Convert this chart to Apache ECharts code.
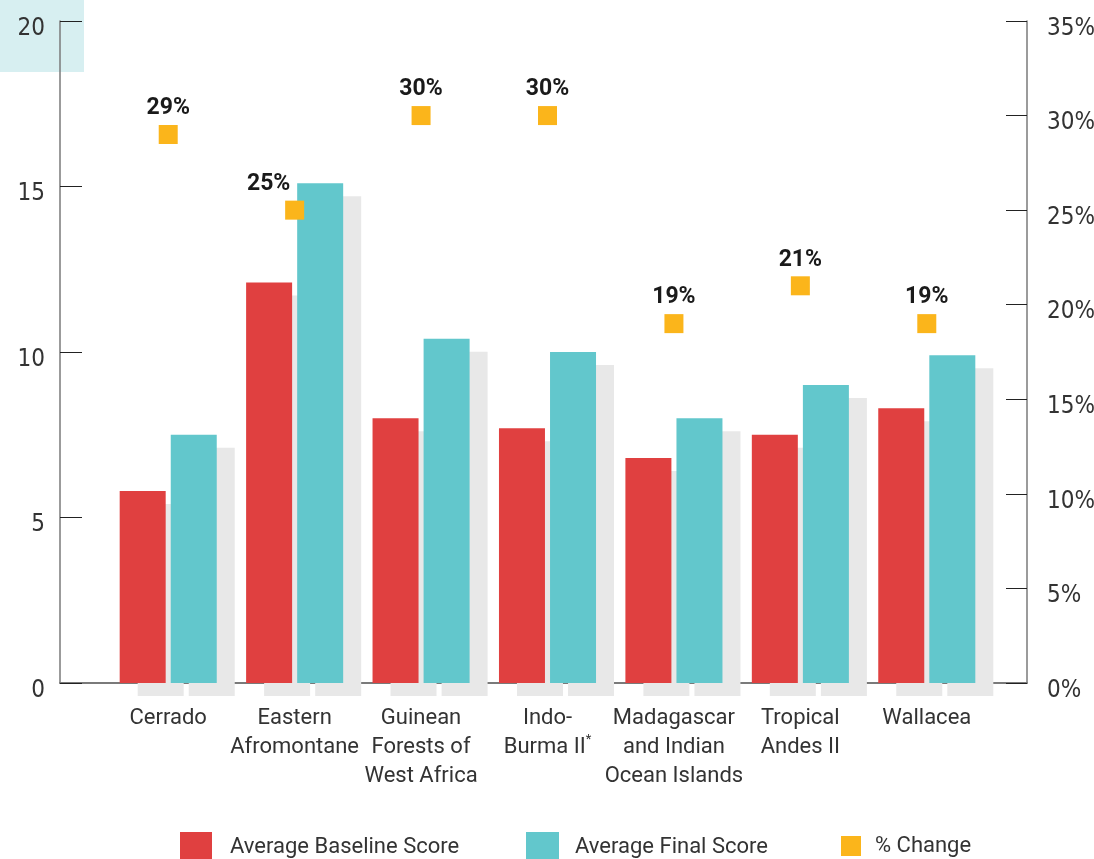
<!DOCTYPE html>
<html>
<head>
<meta charset="utf-8">
<script src="https://cdn.jsdelivr.net/npm/echarts@6/dist/echarts.min.js"></script>
<style>html,body{margin:0;padding:0;background:#fff;}#chart{width:1094px;height:859px;}</style>
</head>
<body>
<div id="chart"></div>
<script>
var categories = ['Cerrado', 'Eastern\nAfromontane', 'Guinean\nForests of\nWest Africa', 'Indo-\nBurma II*', 'Madagascar\nand Indian\nOcean Islands', 'Tropical\nAndes II', 'Wallacea'];
var baselineScores = [5.8, 12.1, 8.0, 7.7, 6.8, 7.5, 8.3];
var finalScores = [7.5, 15.1, 10.4, 10.0, 8.0, 9.0, 9.9];
var pctChange = [29, 25, 30, 30, 19, 21, 19];
var leftTicks = [0, 5, 10, 15, 20];
var rightTicks = [0, 5, 10, 15, 20, 25, 30, 35];

var tickFont = '"Liberation Sans Narrow", "DejaVu Sans Condensed", Roboto, sans-serif';
var textFont = 'Roboto, "Noto Sans", sans-serif';

// the label of the point that sits beside a tall bar is shifted left, as in the original
var pctData = pctChange.map(function (v, i) {
  return i === 1 ? {value: v, label: {offset: [-26, 0]}} : v;
});

var chart = echarts.init(document.getElementById('chart'), null, {renderer: 'canvas'});
var gridTop = 21, gridBottom = 176;

chart.setOption({
  animation: false,
  backgroundColor: '#ffffff',
  graphic: [{
    type: 'rect', z: -10, left: 0, top: 0,
    shape: {x: 0, y: 0, width: 84, height: 72},
    style: {fill: '#d7eff1'}
  }],
  grid: [
    {left: 60, right: 67, top: gridTop, bottom: gridBottom, outerBoundsMode: 'none', containLabel: false},
    {left: 105, right: 104, top: gridTop, bottom: gridBottom, outerBoundsMode: 'none', containLabel: false}
  ],
  xAxis: [
    {
      gridIndex: 0, type: 'category', data: categories,
      axisLine: {show: true, lineStyle: {color: '#7a7a7a', width: 2}},
      axisTick: {show: false}, axisLabel: {show: false}, splitLine: {show: false}
    },
    {
      gridIndex: 1, type: 'category', data: categories,
      axisLine: {show: false}, axisTick: {show: false}, splitLine: {show: false},
      axisLabel: {
        show: true, interval: 0, margin: 21, color: '#333',
        fontFamily: textFont, fontSize: 22, lineHeight: 29,
        formatter: function (v) { return v.replace('*', '{s|*}'); },
        rich: {s: {fontFamily: textFont, fontSize: 13, verticalAlign: 'top', lineHeight: 29, color: '#333', padding: [0, 0, 10, 0]}}
      }
    }
  ],
  yAxis: [
    {
      gridIndex: 0, type: 'value', position: 'left', min: leftTicks[0], max: leftTicks[leftTicks.length - 1], interval: 5,
      axisLine: {show: true, lineStyle: {color: '#7a7a7a', width: 1.5}},
      axisTick: {show: true, inside: true, length: 22, lineStyle: {color: '#222', width: 1}},
      splitLine: {show: false},
      axisLabel: {
        show: true, margin: 15, color: '#333',
        formatter: function (v) { return '{t|' + v + '}'; },
        rich: {t: {fontFamily: tickFont, fontSize: 24, color: '#333', padding: [15, 0, 0, 0]}}
      }
    },
    {
      gridIndex: 0, type: 'value', position: 'right', min: rightTicks[0], max: rightTicks[rightTicks.length - 1], interval: 5,
      axisLine: {show: true, lineStyle: {color: '#7a7a7a', width: 1.5}},
      axisTick: {show: true, inside: true, length: 21, lineStyle: {color: '#222', width: 1}},
      splitLine: {show: false},
      axisLabel: {
        show: true, margin: 20, color: '#333',
        formatter: function (v) { return '{t|' + v + '%}'; },
        rich: {t: {fontFamily: tickFont, fontSize: 24, color: '#333', padding: [15, 0, 0, 0]}}
      }
    },
    {gridIndex: 1, type: 'value', min: 0, max: 20, interval: 5, show: false, splitLine: {show: false}},
    {gridIndex: 1, type: 'value', min: 0, max: 35, interval: 5, show: false, splitLine: {show: false}}
  ],
  legend: [
    {
      left: 180, top: 832, padding: 0, itemWidth: 32, itemHeight: 30, icon: 'rect',
      data: ['Average Baseline Score'],
      textStyle: {fontFamily: textFont, fontSize: 22, color: '#333', padding: [0, 0, 0, 13]}
    },
    {
      left: 526, top: 832, padding: 0, itemWidth: 33, itemHeight: 30, icon: 'rect',
      data: ['Average Final Score'],
      textStyle: {fontFamily: textFont, fontSize: 22, color: '#333', padding: [0, 0, 0, 11]}
    },
    {
      left: 841, top: 835, padding: 0, itemWidth: 20, itemHeight: 20, icon: 'rect',
      data: ['% Change'],
      textStyle: {fontFamily: textFont, fontSize: 22, color: '#333', padding: [0, 0, 0, 9]}
    }
  ],
  series: [
    {
      name: 'Average Baseline Score', type: 'bar', xAxisIndex: 1, yAxisIndex: 2,
      data: baselineScores, barWidth: 46, barGap: '11%',
      itemStyle: {color: '#e04040', shadowColor: '#e8e8e8', shadowOffsetX: 18, shadowOffsetY: 13, shadowBlur: 0},
      emphasis: {disabled: true}
    },
    {
      name: 'Average Final Score', type: 'bar', xAxisIndex: 1, yAxisIndex: 2,
      data: finalScores, barWidth: 46, barGap: '11%',
      itemStyle: {color: '#62c7cc', shadowColor: '#e8e8e8', shadowOffsetX: 18, shadowOffsetY: 13, shadowBlur: 0},
      emphasis: {disabled: true}
    },
    {
      name: '% Change', type: 'scatter', xAxisIndex: 1, yAxisIndex: 3,
      data: pctData, symbol: 'rect', symbolSize: 19, z: 5,
      itemStyle: {color: '#fbb51b', opacity: 1},
      label: {show: true, position: 'top', distance: 5, formatter: '{c}%', fontFamily: textFont, fontWeight: 'bold', fontSize: 23, color: '#1a1a1a'},
      emphasis: {disabled: true}
    }
  ]
});
</script>
</body>
</html>
